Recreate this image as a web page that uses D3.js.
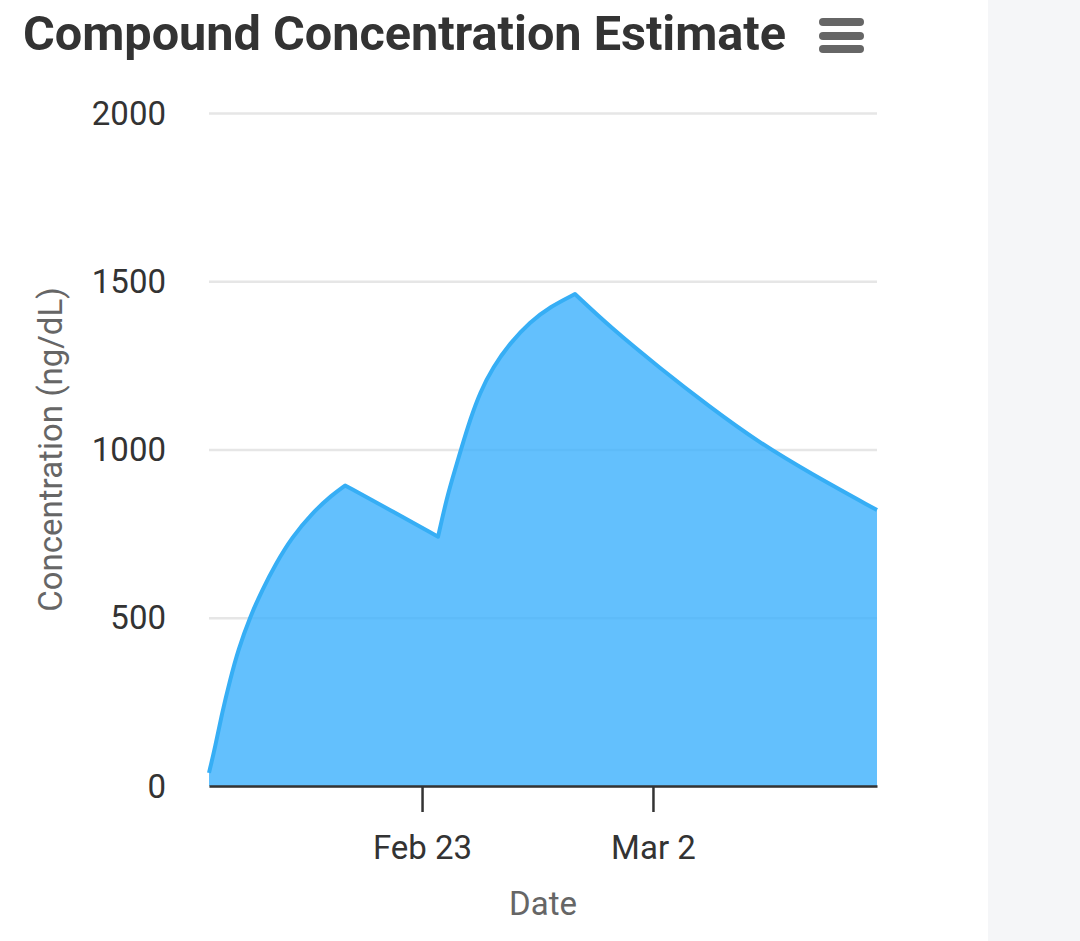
<!DOCTYPE html>
<html>
<head>
<meta charset="utf-8">
<script src="https://cdn.jsdelivr.net/npm/d3@7"></script>
<style>
  body { margin: 0; background: #fff; }
  svg { display: block; font-family: Roboto, "Noto Sans", sans-serif; }
</style>
</head>
<body>
<script>
const svgWidth = 1080;
const svgHeight = 941;

// estimated concentration readings
const times = [
  "2026-02-16T13:00", "2026-02-16T17:30", "2026-02-16T22:30", "2026-02-17T04:20",
  "2026-02-17T10:10", "2026-02-17T19:05", "2026-02-18T03:40", "2026-02-18T13:05",
  "2026-02-19T01:30", "2026-02-19T16:00", "2026-02-20T06:30", "2026-02-20T16:00",
  "2026-02-22T01:00", "2026-02-23T11:40", "2026-02-23T18:10", "2026-02-24T00:00",
  "2026-02-24T05:05", "2026-02-24T10:55", "2026-02-24T18:10", "2026-02-25T03:40",
  "2026-02-25T16:00", "2026-02-26T06:30", "2026-02-26T21:05", "2026-02-27T15:15",
  "2026-02-28T16:45", "2026-03-02T05:00", "2026-03-03T17:30", "2026-03-05T05:50",
  "2026-03-06T18:10", "2026-03-08T19:00"
];
const concentration = [
  39, 116, 217, 315,
  404, 505, 582, 657,
  740, 811, 865, 893,
  820, 741, 859, 940,
  1010, 1088, 1170, 1245,
  1316, 1379, 1424, 1462,
  1364, 1242, 1126, 1019,
  930, 820
];
// indexes where a dose peak / trough turns the curve sharply
const cornerIdx = [0, 11, 13, 23, 29];
const yTicks = [0, 500, 1000, 1500, 2000];
const xTickDates = ["2026-02-23T00:00", "2026-03-02T00:00"];

const parseTime = d3.timeParse("%Y-%m-%dT%H:%M");
const data = times.map((t, i) => ({ date: parseTime(t), value: concentration[i] }));

const svg = d3.select("body")
  .append("svg")
  .attr("width", svgWidth)
  .attr("height", svgHeight);

svg.append("rect")
  .attr("x", 988).attr("y", 0)
  .attr("width", svgWidth - 988).attr("height", svgHeight)
  .attr("fill", "#f5f6f8");

const plot = { left: 209, right: 877, top: 113, bottom: 786 };

const x = d3.scaleTime()
  .domain(d3.extent(data, d => d.date))
  .range([plot.left, plot.right]);

const y = d3.scaleLinear()
  .domain([0, 2000])
  .range([plot.bottom, plot.top]);

// grid + y labels
const yAxis = svg.append("g")
  .attr("transform", `translate(${plot.left},0)`)
  .call(d3.axisLeft(y).tickValues(yTicks).tickFormat(d3.format("d"))
    .tickSize(-(plot.right - plot.left)).tickPadding(43));
yAxis.attr("font-family", null);
yAxis.select(".domain").remove();
yAxis.selectAll(".tick line").attr("stroke", "#e6e6e6").attr("stroke-width", 2.5);
yAxis.selectAll(".tick text")
  .attr("fill", "#333")
  .attr("font-size", 33)
  .attr("dy", "0.34em");

// smooth within each phase, sharp at the corners
const seg = d3.line()
  .x(d => x(d.date))
  .y(d => y(d.value))
  .curve(d3.curveBasis);

let linePath = "";
for (let k = 0; k < cornerIdx.length - 1; k++) {
  const part = seg(data.slice(cornerIdx[k], cornerIdx[k + 1] + 1));
  linePath += k === 0 ? part : "L" + part.slice(1);
}
const first = data[0], last = data[data.length - 1];
const areaPath = linePath +
  `L${x(last.date)},${y(0)}L${x(first.date)},${y(0)}Z`;

svg.append("path")
  .attr("d", areaPath)
  .attr("fill", "rgb(60,176,252)")
  .attr("fill-opacity", 0.8);

svg.append("path")
  .attr("d", linePath)
  .attr("fill", "none")
  .attr("stroke", "#36aef5")
  .attr("stroke-width", 4)
  .attr("stroke-linejoin", "round");

// x axis
const xAxis = svg.append("g")
  .attr("transform", `translate(0,${plot.bottom})`)
  .call(d3.axisBottom(x)
    .tickValues(xTickDates.map(parseTime))
    .tickFormat(d3.timeFormat("%b %-d"))
    .tickSize(26)
    .tickSizeOuter(0)
    .tickPadding(24));
xAxis.attr("font-family", null);
xAxis.select(".domain").attr("stroke", "#333").attr("stroke-width", 2.5);
xAxis.selectAll(".tick line").attr("stroke", "#333").attr("stroke-width", 2.5);
xAxis.selectAll(".tick text").attr("fill", "#333").attr("font-size", 33);

// axis titles
svg.append("text")
  .attr("x", (plot.left + plot.right) / 2)
  .attr("y", 915)
  .attr("text-anchor", "middle")
  .attr("fill", "#666")
  .attr("font-size", 33)
  .text("Date");

svg.append("text")
  .attr("transform", `translate(62,${(plot.top + plot.bottom) / 2}) rotate(-90)`)
  .attr("text-anchor", "middle")
  .attr("fill", "#666")
  .attr("font-size", 33)
  .text("Concentration (ng/dL)");

// title
svg.append("text")
  .attr("x", 23)
  .attr("y", 50)
  .attr("fill", "#333")
  .attr("font-size", 48)
  .attr("font-weight", "bold")
  .attr("textLength", 763)
  .attr("lengthAdjust", "spacingAndGlyphs")
  .text("Compound Concentration Estimate");

// menu icon
const menu = svg.append("g").attr("transform", "translate(819,0)");
[22, 36, 49].forEach(cy => {
  menu.append("rect")
    .attr("x", 0).attr("y", cy - 4)
    .attr("width", 45).attr("height", 8)
    .attr("rx", 4)
    .attr("fill", "#666");
});
</script>
</body>
</html>
